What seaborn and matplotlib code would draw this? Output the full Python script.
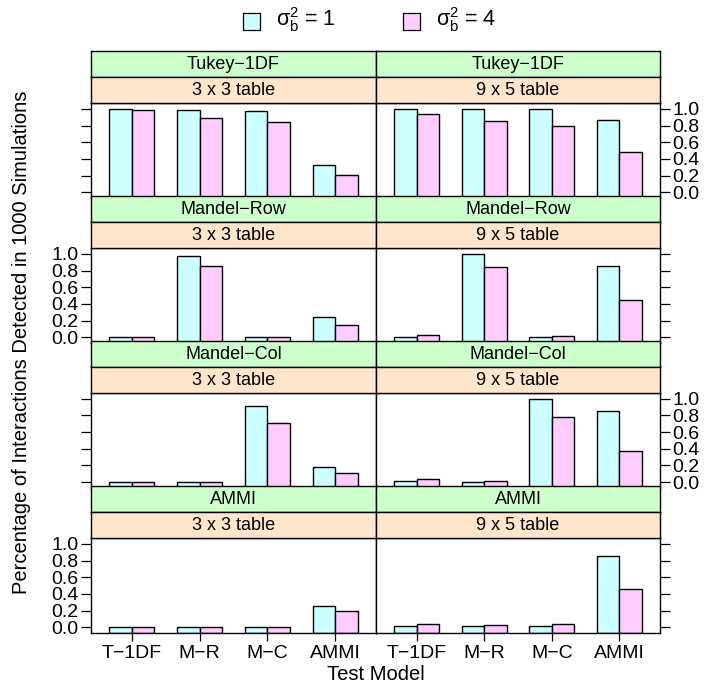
import numpy as np
import pandas as pd
import matplotlib
matplotlib.use("Agg")
import matplotlib.pyplot as plt
import seaborn as sns
from matplotlib.patches import Rectangle

# categories
models = ["T\u22121DF", "M\u2212R", "M\u2212C", "AMMI"]
tests = ["Tukey\u22121DF", "Mandel\u2212Row", "Mandel\u2212Col", "AMMI"]
tables = ["3 x 3 table", "9 x 5 table"]
sigma_levels = ["1", "4"]

# proportion of interactions detected
tukey_3x3_s1 = [1.00, 0.99, 0.98, 0.33]
tukey_3x3_s4 = [0.99, 0.89, 0.84, 0.21]
tukey_9x5_s1 = [1.00, 1.00, 1.00, 0.87]
tukey_9x5_s4 = [0.94, 0.86, 0.79, 0.48]
mrow_3x3_s1 = [0.00, 0.98, 0.00, 0.24]
mrow_3x3_s4 = [0.00, 0.85, 0.00, 0.15]
mrow_9x5_s1 = [0.00, 1.00, 0.00, 0.86]
mrow_9x5_s4 = [0.03, 0.84, 0.01, 0.45]
mcol_3x3_s1 = [0.00, 0.00, 0.92, 0.18]
mcol_3x3_s4 = [0.00, 0.00, 0.71, 0.11]
mcol_9x5_s1 = [0.01, 0.00, 1.00, 0.86]
mcol_9x5_s4 = [0.035, 0.02, 0.785, 0.38]
ammi_3x3_s1 = [0.00, 0.00, 0.00, 0.26]
ammi_3x3_s4 = [0.00, 0.00, 0.00, 0.20]
ammi_9x5_s1 = [0.02, 0.01, 0.01, 0.855]
ammi_9x5_s4 = [0.035, 0.03, 0.04, 0.46]

panels = {
    (0, 0): (tukey_3x3_s1, tukey_3x3_s4), (0, 1): (tukey_9x5_s1, tukey_9x5_s4),
    (1, 0): (mrow_3x3_s1, mrow_3x3_s4), (1, 1): (mrow_9x5_s1, mrow_9x5_s4),
    (2, 0): (mcol_3x3_s1, mcol_3x3_s4), (2, 1): (mcol_9x5_s1, mcol_9x5_s4),
    (3, 0): (ammi_3x3_s1, ammi_3x3_s4), (3, 1): (ammi_9x5_s1, ammi_9x5_s4),
}

BLUE, PINK = "#CCFFFF", "#FFCCFF"
GREEN_STRIP, ORANGE_STRIP = "#CCFFCC", "#FFE5CC"
YMIN, YMAX = -0.07, 1.07
FS_TICK, FS_STRIP, FS_LAB, FS_KEY = 14, 13, 14.5, 15.5

sns.set_theme(style="ticks")
plt.rcParams.update({
    "font.family": ["Liberation Sans", "DejaVu Sans"],
    "mathtext.fontset": "custom",
    "mathtext.rm": "Liberation Sans",
    "mathtext.it": "Liberation Sans",
    "text.color": "black",
    "axes.edgecolor": "black",
    "axes.linewidth": 1.0,
    "xtick.color": "black",
    "ytick.color": "black",
    "xtick.labelcolor": "black",
    "ytick.labelcolor": "black",
})

W, H = 704, 687
fig = plt.figure(figsize=(W / 100, H / 100), dpi=100)


def px_axes(x0, y0, x1, y1):
    return fig.add_axes([x0 / W, 1 - y1 / H, (x1 - x0) / W, (y1 - y0) / H])


col_x = [(91, 376), (376, 660)]
row_top = [103, 248, 393, 538]
panel_h = 95
strip_h = 26

for (r, c), (s1, s4) in panels.items():
    x0, x1 = col_x[c]
    top = row_top[r]
    ax = px_axes(x0, top, x1, top + panel_h)
    df = pd.DataFrame({
        "model": models * 2,
        "sigma": [sigma_levels[0]] * 4 + [sigma_levels[1]] * 4,
        "value": list(s1) + list(s4),
    })
    df["height"] = df["value"] - YMIN
    sns.barplot(data=df, x="model", y="height", hue="sigma", order=models,
                hue_order=sigma_levels, palette=[BLUE, PINK], saturation=1,
                width=2 / 3, errorbar=None, edgecolor="black", linewidth=1.0,
                bottom=YMIN, legend=False, ax=ax)
    ax.set_xlim(-0.6, 3.6)
    ax.set_ylim(YMIN, YMAX)
    ax.set_xlabel("")
    ax.set_ylabel("")
    ax.set_yticks([0.0, 0.2, 0.4, 0.6, 0.8, 1.0])
    ax.set_yticklabels(["0.0", "0.2", "0.4", "0.6", "0.8", "1.0"])
    ax.tick_params(axis="y", length=7, width=0.9, labelsize=FS_TICK, pad=2)
    ax.tick_params(axis="x", length=6, width=0.9, labelsize=FS_TICK, pad=3)
    labelled = (r % 2 == 1 and c == 0) or (r % 2 == 0 and c == 1)
    if c == 0:
        ax.tick_params(axis="y", left=True, right=False, labelleft=labelled, labelright=False)
    else:
        ax.tick_params(axis="y", left=False, right=True, labelleft=False, labelright=labelled)
    if r == 3:
        ax.tick_params(axis="x", bottom=True, labelbottom=True)
    else:
        ax.tick_params(axis="x", bottom=False, labelbottom=False)

    # strips: outer (test) on top, inner (table) next to the panel
    for k, (label, colr) in enumerate([(tests[r], GREEN_STRIP), (tables[c], ORANGE_STRIP)]):
        s_top = top - 2 * strip_h + k * strip_h
        sax = px_axes(x0, s_top, x1, s_top + strip_h)
        sax.set_facecolor(colr)
        sax.set_xticks([])
        sax.set_yticks([])
        for sp in sax.spines.values():
            sp.set_linewidth(1.0)
        sax.text(0.5, 0.47, label, ha="center", va="center", fontsize=FS_STRIP,
                 transform=sax.transAxes)

# axis titles
fig.text(22 / W, 1 - 342 / H, "Percentage of Interactions Detected in 1000 Simulations",
         rotation=90, ha="center", va="center", fontsize=FS_LAB)
fig.text(376 / W, 1 - 675 / H, "Test Model", ha="center", va="center", fontsize=FS_LAB)

# legend
for xs, xt, colr, lev in [(243, 276, BLUE, sigma_levels[0]), (403, 436, PINK, sigma_levels[1])]:
    fig.patches.append(Rectangle((xs / W, 1 - 30 / H), 17 / W, 17 / H, transform=fig.transFigure,
                                 facecolor=colr, edgecolor="black", linewidth=0.9))
    fig.text(xt / W, 1 - 20 / H, r"$\mathregular{\sigma_b^2}$ = " + lev, ha="left", va="center",
             fontsize=FS_KEY)

fig.savefig("out.png", dpi=100)
